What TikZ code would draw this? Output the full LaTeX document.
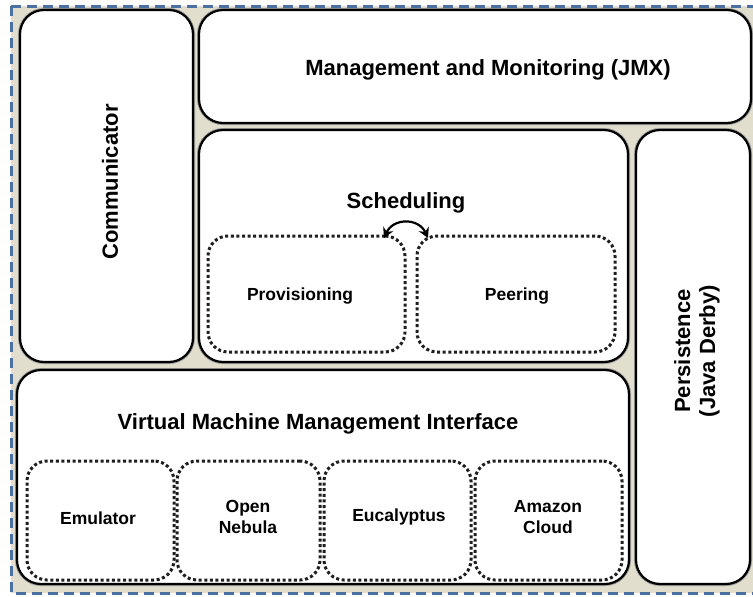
\documentclass[tikz,border=0pt]{standalone}
\usepackage{fontspec}
\setmainfont{Liberation Sans}
\usetikzlibrary{arrows.meta,positioning}
\definecolor{panelbg}{RGB}{226,222,206}
\definecolor{frameblue}{RGB}{74,112,164}
\definecolor{dotink}{RGB}{30,30,30}
\tikzset{
  x=1pt, y=-1pt,
  module/.style={draw=black, line width=2.2pt, fill=white, rounded corners=24pt,
    inner sep=0pt, outer sep=0pt,
    preaction={draw=black!40, line width=4pt, rounded corners=24pt}},
  submodule/.style={draw=dotink, line width=3pt, rounded corners=20pt,
    dash pattern=on 3pt off 2.6pt, inner sep=0pt, outer sep=0pt},
  title/.style={font=\bfseries\fontsize{22}{25}\selectfont, inner sep=0pt, align=center},
  subtitle/.style={font=\bfseries\fontsize{17.5}{21}\selectfont, inner sep=0pt, align=center},
  swap/.style={{Stealth[length=10pt,width=11pt]}-{Stealth[length=10pt,width=11pt]}, line width=2.2pt}
}
\newcommand{\boxat}[6][module]{%
  \node[#1, minimum width=#4-#2, minimum height=#5-#3] (#6) at ({(#2+#4)/2},{(#3+#5)/2}) {};}
\begin{document}
\begin{tikzpicture}
\useasboundingbox (0,0) rectangle (753,597);
% shared backdrop with dashed frame
\fill[white] (0,0) rectangle (753,597);
\fill[panelbg] (11,6) rectangle (753,593);
\draw[frameblue, line width=3pt, dash pattern=on 10pt off 6pt] (11,6) -- (753,6) (11,6) -- (11,593) -- (753,593);

% main modules
\boxat{20}{10}{193}{362}{comm}
\boxat{199}{10}{751}{123}{jmx}
\boxat{199}{130}{628}{362}{sched}
\boxat{636}{130}{750}{584}{persist}
\boxat{17}{370}{629}{584}{vmmi}

% scheduling sub-modules
\boxat[submodule]{208}{236}{405}{352}{prov}
\boxat[submodule]{417}{236}{615}{352}{peer}

% virtual machine back-ends
\boxat[submodule]{27}{461}{174}{580}{emu}
\boxat[submodule]{177}{461}{320}{580}{nebula}
\boxat[submodule]{324}{461}{471}{580}{euca}
\boxat[submodule]{475}{461}{622}{580}{amazon}

% labels
\node[title, rotate=90] (commtxt) at (110,182) {Communicator};
\node[title] (jmxtxt) at (488,70) {Management and Monitoring (JMX)};
\node[title] (schedtxt) at (406,203) {Scheduling};
\node[title, rotate=90] (persisttxt) at (697,351) {Persistence\\(Java Derby)};
\node[title] (vmmitxt) at (318,424) {Virtual Machine Management Interface};
\node[subtitle] (provtxt) at (300,296) {Provisioning};
\node[subtitle] (peertxt) at (517,296) {Peering};
\node[subtitle] (emutxt) at (98,518) {Emulator};
\node[subtitle] (nebulatxt) at (248,517) {Open\\Nebula};
\node[subtitle] (eucatxt) at (399,517) {Eucalyptus};
\node[subtitle] (amazontxt) at (548,517) {Amazon\\Cloud};

% exchange between provisioning and peering
\coordinate (provend) at ([xshift=-21pt, yshift=-2pt]prov.north east);
\coordinate (peerend) at ([xshift=11pt, yshift=-2pt]peer.north west);
\draw[swap] (provend) to[out=65, in=115, looseness=1.3] (peerend);
\end{tikzpicture}
\end{document}
